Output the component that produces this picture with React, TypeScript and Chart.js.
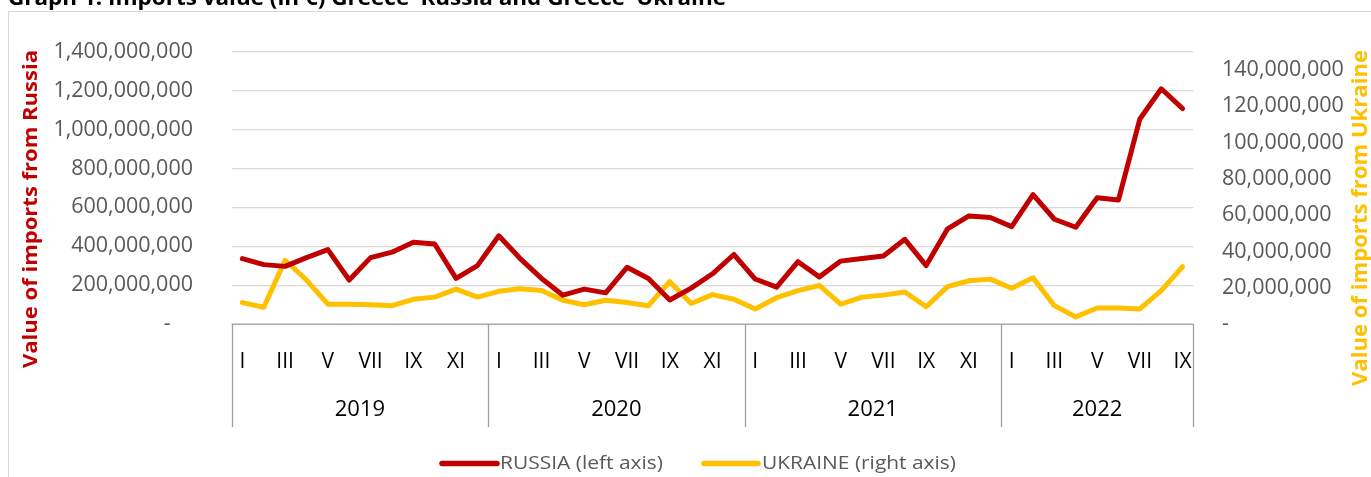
import React, { useEffect, useRef } from 'react';
import { Chart, registerables } from 'chart.js';

Chart.register(...registerables);

const TITLE = 'Graph 1: Imports value (in €) Greece–Russia and Greece–Ukraine';
const YEARS = ['2019', '2020', '2021', '2022'];
const MONTHS = ['I', 'II', 'III', 'IV', 'V', 'VI', 'VII', 'VIII', 'IX', 'X', 'XI', 'XII'];
const MONTH_COUNTS = [12, 12, 12, 9];

const RUSSIA = [
  337_000_000, 306_000_000, 297_000_000, 342_000_000, 383_000_000, 227_000_000,
  342_000_000, 370_000_000, 421_000_000, 412_000_000, 235_000_000, 301_000_000,
  454_000_000, 337_000_000, 235_000_000, 149_000_000, 180_000_000, 161_000_000,
  292_000_000, 235_000_000, 124_000_000, 185_000_000, 259_000_000, 358_000_000,
  232_000_000, 190_000_000, 321_000_000, 243_000_000, 324_000_000, 337_000_000,
  350_000_000, 436_000_000, 301_000_000, 490_000_000, 556_000_000, 548_000_000,
  501_000_000, 666_000_000, 539_000_000, 498_000_000, 649_000_000, 638_000_000,
  1_054_000_000, 1_209_000_000, 1_107_000_000,
];

const UKRAINE = [
  11_900_000, 9_300_000, 35_200_000, 24_300_000, 11_000_000, 11_000_000,
  10_700_000, 10_200_000, 13_700_000, 14_900_000, 19_300_000, 14_900_000,
  18_100_000, 19_500_000, 18_500_000, 13_200_000, 10_700_000, 13_200_000,
  11_900_000, 10_200_000, 23_400_000, 11_400_000, 16_300_000, 13_700_000,
  8_400_000, 14_600_000, 18_500_000, 21_300_000, 11_000_000, 14_900_000,
  16_000_000, 17_700_000, 9_600_000, 20_700_000, 23_900_000, 24_800_000,
  19_800_000, 25_500_000, 10_200_000, 4_000_000, 8_900_000, 8_900_000,
  8_400_000, 18_500_000, 31_700_000,
];

const LEFT_TICKS = [0, 200_000_000, 400_000_000, 600_000_000, 800_000_000, 1_000_000_000, 1_200_000_000, 1_400_000_000];
const RIGHT_TICKS = [0, 20_000_000, 40_000_000, 60_000_000, 80_000_000, 100_000_000, 120_000_000, 140_000_000];
const LEFT_MAX = 1_400_000_000;
const RIGHT_MAX = 150_000_000;

const SERIES_LABELS = ['RUSSIA (left axis)', 'UKRAINE (right axis)'];
const LEFT_TITLE = 'Value of imports from Russia';
const RIGHT_TITLE = 'Value of imports from Ukraine';

const RED = '#C00000';
const YELLOW = '#FFC000';
const W = 1371;
const H = 477;
const FONT = '"Open Sans", "DejaVu Sans", sans-serif';

function fitted(ctx: CanvasRenderingContext2D, text: string, x: number, y: number, width: number) {
  const w = ctx.measureText(text).width;
  ctx.save();
  ctx.translate(x, y);
  ctx.scale(width / w, 1);
  ctx.fillText(text, 0, 0);
  ctx.restore();
}

const decor = {
  id: 'decor',
  beforeDraw(chart: any) {
    const ctx: CanvasRenderingContext2D = chart.ctx;
    ctx.save();
    ctx.strokeStyle = '#d9d9d9';
    ctx.lineWidth = 1;
    ctx.beginPath();
    ctx.moveTo(8.5, H);
    ctx.lineTo(8.5, 11.5);
    ctx.lineTo(W, 11.5);
    ctx.stroke();
    ctx.fillStyle = '#000';
    ctx.font = `bold 22px ${FONT}`;
    ctx.textAlign = 'left';
    ctx.textBaseline = 'alphabetic';
    fitted(ctx, TITLE, 8, 5, 718);
    ctx.restore();
  },
  beforeDatasetsDraw(chart: any) {
    const ctx: CanvasRenderingContext2D = chart.ctx;
    const a = chart.chartArea;
    const x = chart.scales.x;
    ctx.save();
    ctx.strokeStyle = '#a0a0a0';
    ctx.lineWidth = 1.3;
    ctx.beginPath();
    ctx.moveTo(a.left, a.bottom);
    ctx.lineTo(a.right, a.bottom);
    ctx.stroke();

    let start = 0;
    ctx.fillStyle = '#000';
    ctx.textBaseline = 'middle';
    ctx.textAlign = 'center';
    MONTH_COUNTS.forEach((n, yi) => {
      const x0 = x.getPixelForValue(start - 0.5);
      const x1 = x.getPixelForValue(start + n - 0.5);
      ctx.beginPath();
      ctx.moveTo(Math.round(x0) + 0.5, a.bottom);
      ctx.lineTo(Math.round(x0) + 0.5, 427);
      ctx.stroke();
      if (yi === MONTH_COUNTS.length - 1) {
        ctx.beginPath();
        ctx.moveTo(Math.round(x1) + 0.5, a.bottom);
        ctx.lineTo(Math.round(x1) + 0.5, 427);
        ctx.stroke();
      }
      ctx.font = `21px ${FONT}`;
      for (let m = 0; m < n; m += 2) {
        ctx.fillText(MONTHS[m], x.getPixelForValue(start + m), 362);
      }
      ctx.font = `22px ${FONT}`;
      ctx.fillText(YEARS[yi], (x0 + x1) / 2, 410);
      start += n;
    });

    // axis titles
    ctx.font = `bold 20px ${FONT}`;
    ctx.fillStyle = RED;
    ctx.save();
    ctx.translate(31.5, 209);
    ctx.rotate(-Math.PI / 2);
    ctx.textAlign = 'left';
    fitted(ctx, LEFT_TITLE, -159, 0, 318);
    ctx.restore();
    ctx.fillStyle = YELLOW;
    ctx.font = `bold 21px ${FONT}`;
    ctx.save();
    ctx.translate(1361.5, 218);
    ctx.rotate(-Math.PI / 2);
    ctx.textAlign = 'left';
    fitted(ctx, RIGHT_TITLE, -168, 0, 336);
    ctx.restore();

    // legend
    const ds = chart.data.datasets;
    const legendX = [[442, 497, 500, 163], [704, 758, 762, 194]];
    ctx.lineCap = 'round';
    ctx.textAlign = 'left';
    ctx.font = `19px ${FONT}`;
    ds.forEach((d: any, i: number) => {
      const [l0, l1, tx, tw] = legendX[i];
      ctx.strokeStyle = d.borderColor;
      ctx.lineWidth = 5.5;
      ctx.beginPath();
      ctx.moveTo(l0, 463.5);
      ctx.lineTo(l1, 463.5);
      ctx.stroke();
      ctx.fillStyle = '#595959';
      fitted(ctx, d.label, tx, 463.5, tw);
    });
    ctx.restore();
  },
};

const fmt = (v: number) => Number(v).toLocaleString('en-US');

export default function App() {
  const ref = useRef<HTMLCanvasElement | null>(null);
  useEffect(() => {
    if (!ref.current) return;
    const labels: string[] = [];
    MONTH_COUNTS.forEach((n, yi) => {
      for (let m = 0; m < n; m++) labels.push(`${MONTHS[m]} ${YEARS[yi]}`);
    });
    const chart = new Chart(ref.current, {
      type: 'line',
      data: {
        labels,
        datasets: [
          {
            label: SERIES_LABELS[0],
            data: RUSSIA,
            borderColor: RED,
            backgroundColor: RED,
            borderWidth: 5,
            pointRadius: 0,
            borderJoinStyle: 'round',
            borderCapStyle: 'round',
            yAxisID: 'y',
          },
          {
            label: SERIES_LABELS[1],
            data: UKRAINE,
            borderColor: YELLOW,
            backgroundColor: YELLOW,
            borderWidth: 5,
            pointRadius: 0,
            borderJoinStyle: 'round',
            borderCapStyle: 'round',
            yAxisID: 'y2',
          },
        ],
      },
      options: {
        responsive: false,
        animation: false,
        events: [],
        layout: { padding: { top: 40.7, left: 0, right: 0, bottom: 0 } },
        plugins: { legend: { display: false }, title: { display: false }, tooltip: { enabled: false } },
        scales: {
          x: {
            type: 'category',
            offset: true,
            grid: { display: false },
            border: { display: false },
            ticks: { display: false },
            afterFit: (s: any) => { s.height = H - 324.2; },
          },
          y: {
            position: 'left',
            min: 0,
            max: LEFT_MAX,
            afterBuildTicks: (s: any) => { s.ticks = LEFT_TICKS.map((v) => ({ value: v })); },
            afterFit: (s: any) => { s.width = 231.7; },
            grid: { color: '#d9d9d9', lineWidth: 1.2, drawTicks: false },
            border: { display: false },
            ticks: {
              padding: 38.7,
              color: '#595959',
              font: { family: FONT, size: 21.5 },
              callback: (v: any) => (Number(v) === 0 ? '-    ' : fmt(v)),
            },
          },
          y2: {
            position: 'right',
            min: 0,
            max: RIGHT_MAX,
            afterBuildTicks: (s: any) => { s.ticks = RIGHT_TICKS.map((v) => ({ value: v })); },
            afterFit: (s: any) => { s.width = W - 1193.3; },
            grid: { display: false, drawTicks: false },
            border: { display: false },
            ticks: {
              padding: 28.7,
              color: '#595959',
              font: { family: FONT, size: 21.5 },
              callback: (v: any) => (Number(v) === 0 ? '-' : fmt(v)),
            },
          },
        },
      },
      plugins: [decor],
    } as any);
    return () => chart.destroy();
  }, []);
  return (
    <div style={{ position: 'absolute', left: 0, top: 0, width: W, height: H, overflow: 'hidden' }}>
      <canvas ref={ref} width={W} height={H} style={{ display: 'block', width: W, height: H }} />
    </div>
  );
}
